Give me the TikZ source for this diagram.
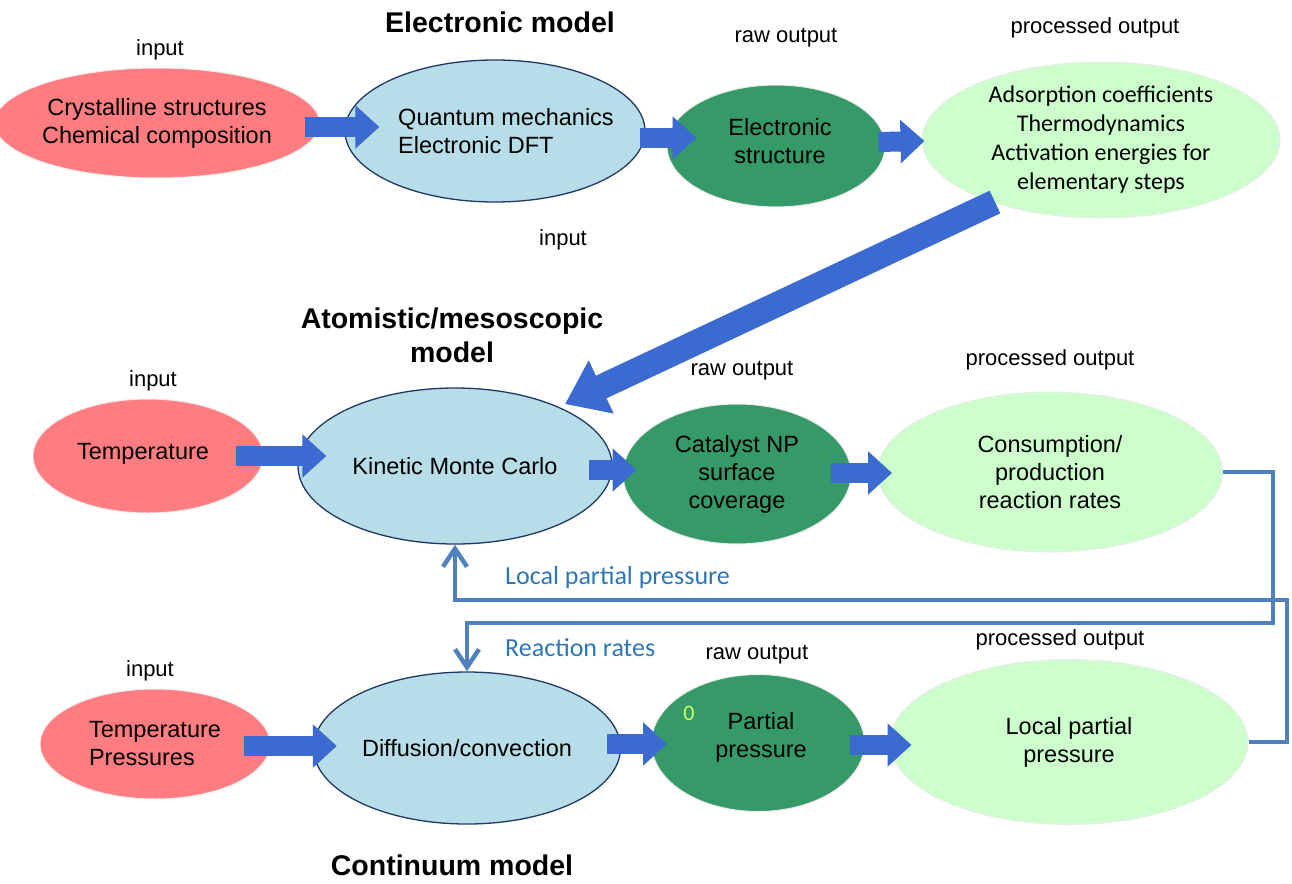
\documentclass[tikz,border=0pt]{standalone}
\usepackage{fontspec}
\setmainfont{Liberation Sans}
\newfontfamily\calibri{Carlito}
\usetikzlibrary{shapes.geometric,arrows.meta,calc}
\definecolor{redfill}{RGB}{255,124,128}
\definecolor{bluefill}{RGB}{183,221,232}
\definecolor{blueedge}{RGB}{31,56,100}
\definecolor{dgreen}{RGB}{53,154,103}
\definecolor{lgreen}{RGB}{204,255,204}
\definecolor{barrow}{RGB}{59,106,208}
\definecolor{loopc}{RGB}{79,129,189}
\definecolor{looptext}{RGB}{46,117,182}
\definecolor{zeroc}{RGB}{204,255,102}
\begin{document}
\begin{tikzpicture}[x=1pt,y=-1pt,
  ell/.style={ellipse, inner sep=0pt, align=center, font=\fontsize{23.5}{28}\selectfont},
  redell/.style={ell, fill=redfill, draw=black!8, line width=1pt},
  blueell/.style={ell, fill=bluefill, draw=blueedge, line width=1.3pt},
  dgell/.style={ell, fill=dgreen, draw=black!8, line width=1pt},
  lgell/.style={ell, fill=lgreen, draw=black!8, line width=1pt},
  intext/.style={font=\fontsize{23.5}{28}\selectfont, inner sep=0pt},
  lbl/.style={font=\fontsize{22}{26}\selectfont, inner sep=0pt},
  ttl/.style={font=\fontsize{28.5}{34}\selectfont\bfseries, inner sep=0pt, align=center},
  looplbl/.style={font=\calibri\fontsize{26}{30}\selectfont, text=looptext, inner sep=0pt},
  blockarrow/.style={line width=20pt, barrow, -{Triangle[length=24pt,width=42pt]}},
  bigarrow/.style={line width=25pt, barrow, -{Triangle[length=40pt,width=56pt]}},
  loopline/.style={line width=4.5pt, loopc, -{Straight Barb[length=18pt,width=24pt]}}
]
\useasboundingbox (0,0) rectangle (1292,883);

% ---- Row 1: electronic model
\node[ttl] (t1) at (500,22) {Electronic model};
\node[lbl] (in1) at (160,50) {input};
\node[lbl] (ro1) at (786,38) {raw output};
\node[lbl] (po1) at (1095,28) {processed output};
\node[redell, minimum width=296pt, minimum height=110pt] (C1) at (157,123) {Crystalline structures\\Chemical composition};
\node[blueell, minimum width=300pt, minimum height=142pt] (Q1) at (495,131) {};
\node[intext, align=left] (Q1t) at (506,131) {Quantum mechanics\\Electronic DFT};
\node[dgell, minimum width=218pt, minimum height=122pt] (E1) at (776,146) {};
\node[intext, align=center] (E1t) at (780,141) {Electronic\\structure};
\node[lgell, minimum width=358pt, minimum height=156pt, font=\calibri\fontsize{24}{29}\selectfont] (P1) at (1101,140) {Adsorption coefficients\\Thermodynamics\\Activation energies for\\elementary steps};

\draw[blockarrow] ($(C1.east)+(-15,4)$) -- ($(Q1.west)+(35,-4)$);
\draw[blockarrow] ($(Q1.east)+(-6,7)$) -- ($(E1.west)+(30,-8)$);
\draw[blockarrow] ($(E1.east)+(-7,-4)$) -- ($(P1.west)+(3,1)$);

\node[lbl] (in2) at (563,240) {input};

% ---- Row 2: atomistic model
\node[ttl] (t2) at (452,335) {Atomistic/mesoscopic\\model};
\node[lbl] (in3) at (153,381) {input};
\node[lbl] (ro2) at (742,371) {raw output};
\node[lbl] (po2) at (1050,360) {processed output};
\node[redell, minimum width=230pt, minimum height=114pt] (T2) at (148,456) {};
\node[intext] (T2t) at (143,454) {Temperature};
\node[blueell, minimum width=314pt, minimum height=156pt] (K2) at (455,466) {Kinetic Monte Carlo};
\node[dgell, minimum width=228pt, minimum height=140pt] (N2) at (737,474) {Catalyst NP\\surface\\coverage};
\node[lgell, minimum width=345pt, minimum height=160pt] (R2) at (1050,472) {Consumption/\\production\\reaction rates};

\draw[bigarrow] ($(P1.center)+(-106,62)$) -- ($(K2.center)+(110,-62)$);

\draw[blockarrow] ($(T2.east)+(-28,0)$) -- ($(K2.west)+(29,-10)$);
\draw[blockarrow] ($(K2.east)+(-24,4)$) -- ($(N2.west)+(14,-4)$);
\draw[blockarrow] ($(N2.east)+(-21,-1)$) -- ($(R2.west)+(15,1)$);

% ---- Row 3: continuum model
\node[ttl] (t3) at (452,865) {Continuum model};
\node[lbl] (in4) at (150,671) {input};
\node[lbl] (ro3) at (757,655) {raw output};
\node[lbl] (po3) at (1060,640) {processed output};
\node[redell, minimum width=230pt, minimum height=110pt, align=left] (T3) at (155,744) {Temperature\\Pressures};
\node[blueell, minimum width=307pt, minimum height=152pt] (D3) at (467,748) {Diffusion/convection};
\node[dgell, minimum width=213pt, minimum height=137pt] (S3) at (758,743) {};
\node[intext, align=center] (S3t) at (761,737) {Partial\\pressure};
\node[font=\calibri\fontsize{22}{24}\selectfont, text=zeroc, inner sep=0pt] (zero) at (689,713) {0};
\node[lgell, minimum width=358pt, minimum height=165pt] (L3) at (1069,742) {Local partial\\pressure};

\draw[blockarrow] ($(T3.east)+(-27,2)$) -- ($(D3.west)+(24,-2)$);
\draw[blockarrow] ($(D3.east)+(-14,-4)$) -- ($(S3.west)+(16,1)$);
\draw[blockarrow] ($(S3.east)+(-15,2)$) -- ($(L3.west)+(22,3)$);

% ---- feedback loops
\draw[loopline] (R2.east) -| (1273,623) -| (D3.north);
\draw[loopline] (L3.east) -| (1287,600) -| (K2.south);
\node[looplbl, anchor=west] (lpp) at (505,578) {Local partial pressure};
\node[looplbl, anchor=west] (rr) at (505,648) {Reaction rates};
\end{tikzpicture}
\end{document}
